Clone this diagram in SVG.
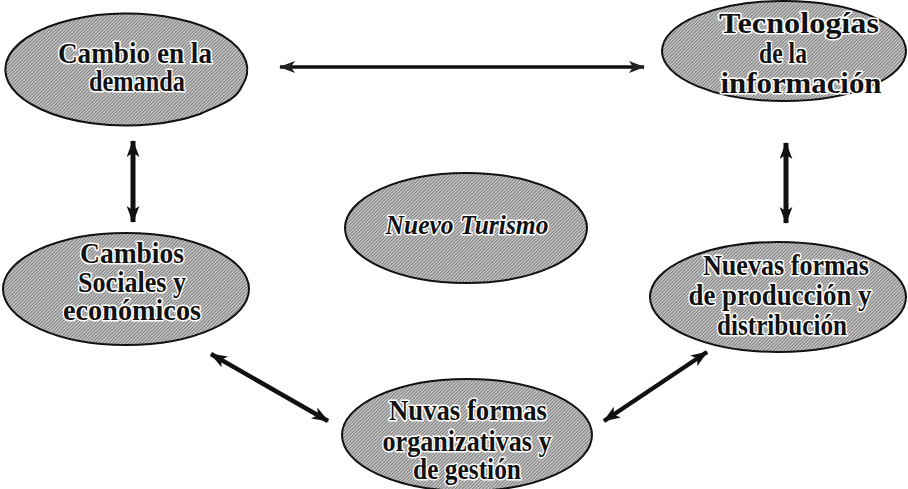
<svg xmlns="http://www.w3.org/2000/svg" width="908" height="489" viewBox="0 0 908 489">
  <defs>
    <!-- fine diagonal hatch used as the ellipse fill -->
    <pattern id="hatch" width="2.4" height="2.4" patternUnits="userSpaceOnUse" patternTransform="rotate(-45)">
      <rect width="2.4" height="2.4" fill="#c8c8c8"/>
      <rect width="2.4" height="1" fill="#7c7c7c"/>
    </pattern>
    <marker id="head" viewBox="0 0 16 12" refX="15" refY="6" markerWidth="17" markerHeight="13" markerUnits="userSpaceOnUse" orient="auto-start-reverse">
      <path d="M0,0 L16,6 L0,12 L4,6 Z" fill="#111"/>
    </marker>
    <marker id="headS" viewBox="0 0 16 12" refX="15" refY="6" markerWidth="16" markerHeight="12" markerUnits="userSpaceOnUse" orient="auto-start-reverse">
      <path d="M0,0 L16,6 L0,12 L4,6 Z" fill="#222"/>
    </marker>
  </defs>
  <style>
    .node ellipse, .node .shape { fill: url(#hatch); stroke: #111; stroke-width: 2; }
    .lbl { font-family: "Liberation Serif", "Times New Roman", serif; font-weight: bold; font-size: 28.5px; fill: #111; text-anchor: middle; stroke: #fff; stroke-width: 3; stroke-linejoin: round; paint-order: stroke; }
    .ital { font-style: italic; font-size: 27px; }
    .conn line { stroke: #111; fill: none; }
  </style>
  <rect width="908" height="489" fill="#fff"/>

  <!-- connectors -->
  <g id="connectors" class="conn">
    <line x1="280" y1="67" x2="644" y2="67" stroke-width="3.5" marker-start="url(#headS)" marker-end="url(#headS)"/>
    <line x1="133" y1="141" x2="133" y2="222" stroke-width="5" marker-start="url(#head)" marker-end="url(#head)"/>
    <line x1="786" y1="143" x2="786" y2="223" stroke-width="5" marker-start="url(#head)" marker-end="url(#head)"/>
    <line x1="211" y1="354" x2="328" y2="421" stroke-width="4.5" marker-start="url(#head)" marker-end="url(#head)"/>
    <line x1="707" y1="352" x2="604" y2="421" stroke-width="4.5" marker-start="url(#head)" marker-end="url(#head)"/>
  </g>

  <!-- ellipse with a peeled lower-right corner -->
  <g id="cambio-demanda" class="node">
    <path class="shape" d="M242,86 A121,56 0 1 0 200,114 C222,104 236,100 242,86 Z"/>
    <text class="lbl" x="135" y="63" textLength="154" lengthAdjust="spacingAndGlyphs">Cambio en la</text>
    <text class="lbl" x="137" y="91" textLength="96" lengthAdjust="spacingAndGlyphs">demanda</text>
  </g>

  <g id="tecnologias" class="node">
    <ellipse cx="784" cy="51" rx="122" ry="50"/>
    <text class="lbl" x="799" y="33" textLength="160" lengthAdjust="spacingAndGlyphs">Tecnologías</text>
    <text class="lbl" x="783" y="63" textLength="48" lengthAdjust="spacingAndGlyphs">de la</text>
    <text class="lbl" x="801" y="93" textLength="161" lengthAdjust="spacingAndGlyphs">información</text>
  </g>

  <g id="cambios-sociales" class="node">
    <ellipse cx="126" cy="289" rx="123" ry="56"/>
    <text class="lbl" x="132" y="263" textLength="104" lengthAdjust="spacingAndGlyphs">Cambios</text>
    <text class="lbl" x="132" y="292" textLength="108" lengthAdjust="spacingAndGlyphs">Sociales y</text>
    <text class="lbl" x="132" y="320" textLength="138" lengthAdjust="spacingAndGlyphs">económicos</text>
  </g>

  <g id="nuevo-turismo" class="node">
    <ellipse cx="466" cy="228" rx="121" ry="55"/>
    <text class="lbl ital" x="467" y="234" textLength="163" lengthAdjust="spacingAndGlyphs">Nuevo Turismo</text>
  </g>

  <g id="produccion-distribucion" class="node">
    <ellipse cx="778" cy="297" rx="128" ry="55"/>
    <text class="lbl" x="786" y="275" textLength="166" lengthAdjust="spacingAndGlyphs">Nuevas formas</text>
    <text class="lbl" x="780" y="305" textLength="183" lengthAdjust="spacingAndGlyphs">de producción y</text>
    <text class="lbl" x="782" y="335" textLength="130" lengthAdjust="spacingAndGlyphs">distribución</text>
  </g>

  <g id="formas-organizativas" class="node">
    <ellipse cx="467" cy="435" rx="125" ry="56"/>
    <text class="lbl" x="468" y="420" textLength="158" lengthAdjust="spacingAndGlyphs">Nuvas formas</text>
    <text class="lbl" x="467" y="451" textLength="169" lengthAdjust="spacingAndGlyphs">organizativas y</text>
    <text class="lbl" x="467" y="479" textLength="108" lengthAdjust="spacingAndGlyphs">de gestión</text>
  </g>
</svg>
